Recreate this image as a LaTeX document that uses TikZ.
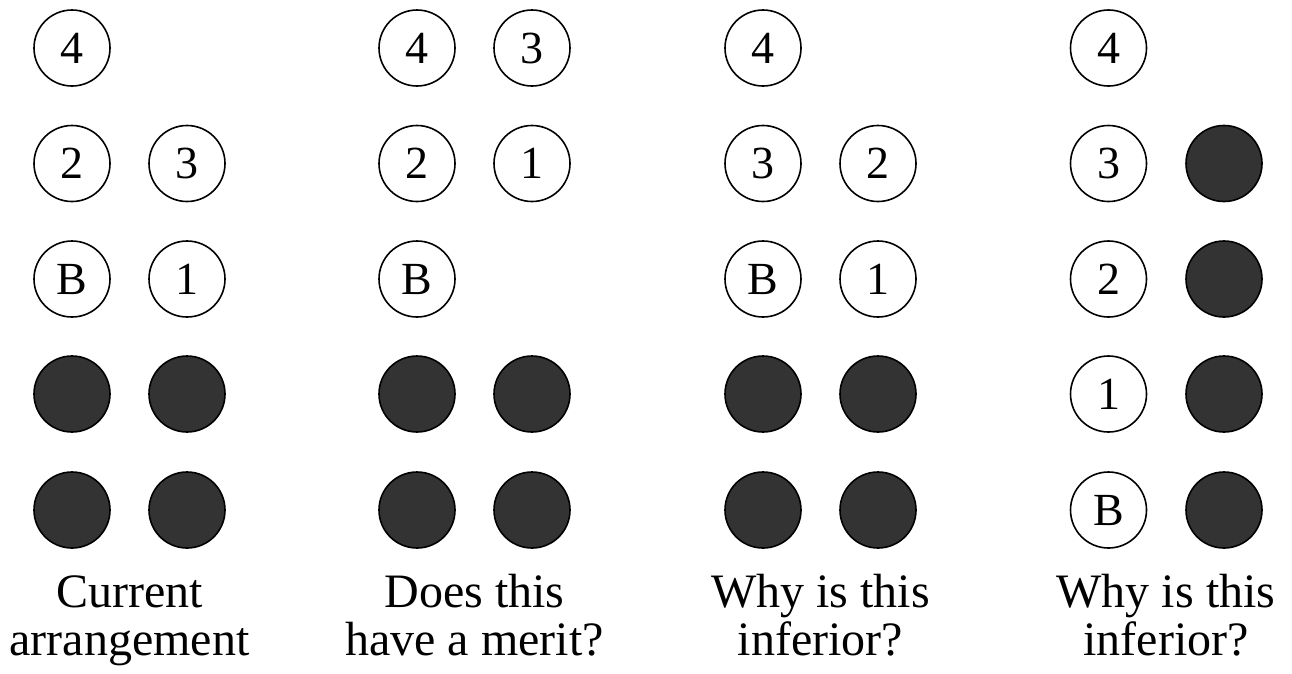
\documentclass[tikz,border=0pt]{standalone}
\usepackage{fontspec}
\setmainfont{Liberation Serif}
\definecolor{dark}{HTML}{333333}
\tikzset{
  tok/.style={circle, draw=black, line width=1.6pt, fill=white, minimum size=76pt, inner sep=0pt, font=\fontsize{46}{46}\selectfont},
  blk/.style={circle, draw=black, line width=1.6pt, fill=dark, minimum size=76pt, inner sep=0pt},
  captxt/.style={align=center, font=\fontsize{48}{48}\selectfont, inner sep=0pt, anchor=base}
}
\begin{document}
\begin{tikzpicture}[x=1pt,y=-1pt]
\useasboundingbox (0,0) rectangle (1292,673);
% group 1
\node[tok] (a4) at (72,48) {4};
\node[tok] (a2) at (72,163.5) {2};
\node[tok] (a3) at (187,163.5) {3};
\node[tok] (aB) at (72,279) {B};
\node[tok] (a1) at (187,279) {1};
\node[blk] (ad1) at (72,394) {};
\node[blk] (ad2) at (187,394) {};
\node[blk] (ad3) at (72,510) {};
\node[blk] (ad4) at (187,510) {};
\node[captxt] (at1) at (129.5,607) {Current};
\node[captxt] (at2) at (129.5,655) {arrangement};
% group 2
\node[tok] (b4) at (417,48) {4};
\node[tok] (b3) at (532,48) {3};
\node[tok] (b2) at (417,163.5) {2};
\node[tok] (b1) at (532,163.5) {1};
\node[tok] (bB) at (417,279) {B};
\node[blk] (bd1) at (417,394) {};
\node[blk] (bd2) at (532,394) {};
\node[blk] (bd3) at (417,510) {};
\node[blk] (bd4) at (532,510) {};
\node[captxt] (bt1) at (474.5,607) {Does this};
\node[captxt] (bt2) at (474.5,655) {have a merit?};
% group 3
\node[tok] (c4) at (763,48) {4};
\node[tok] (c3) at (763,163.5) {3};
\node[tok] (c2) at (878,163.5) {2};
\node[tok] (cB) at (763,279) {B};
\node[tok] (c1) at (878,279) {1};
\node[blk] (cd1) at (763,394) {};
\node[blk] (cd2) at (878,394) {};
\node[blk] (cd3) at (763,510) {};
\node[blk] (cd4) at (878,510) {};
\node[captxt] (ct1) at (820.5,607) {Why is this};
\node[captxt] (ct2) at (820.5,655) {inferior?};
% group 4
\node[tok] (d4) at (1108.5,48) {4};
\node[tok] (d3) at (1108.5,163.5) {3};
\node[blk] (dd1) at (1224,163.5) {};
\node[tok] (d2) at (1108.5,279) {2};
\node[blk] (dd2) at (1224,279) {};
\node[tok] (d1) at (1108.5,394) {1};
\node[blk] (dd3) at (1224,394) {};
\node[tok] (dB) at (1108.5,510) {B};
\node[blk] (dd4) at (1224,510) {};
\node[captxt] (dt1) at (1166,607) {Why is this};
\node[captxt] (dt2) at (1166,655) {inferior?};
\end{tikzpicture}
\end{document}
